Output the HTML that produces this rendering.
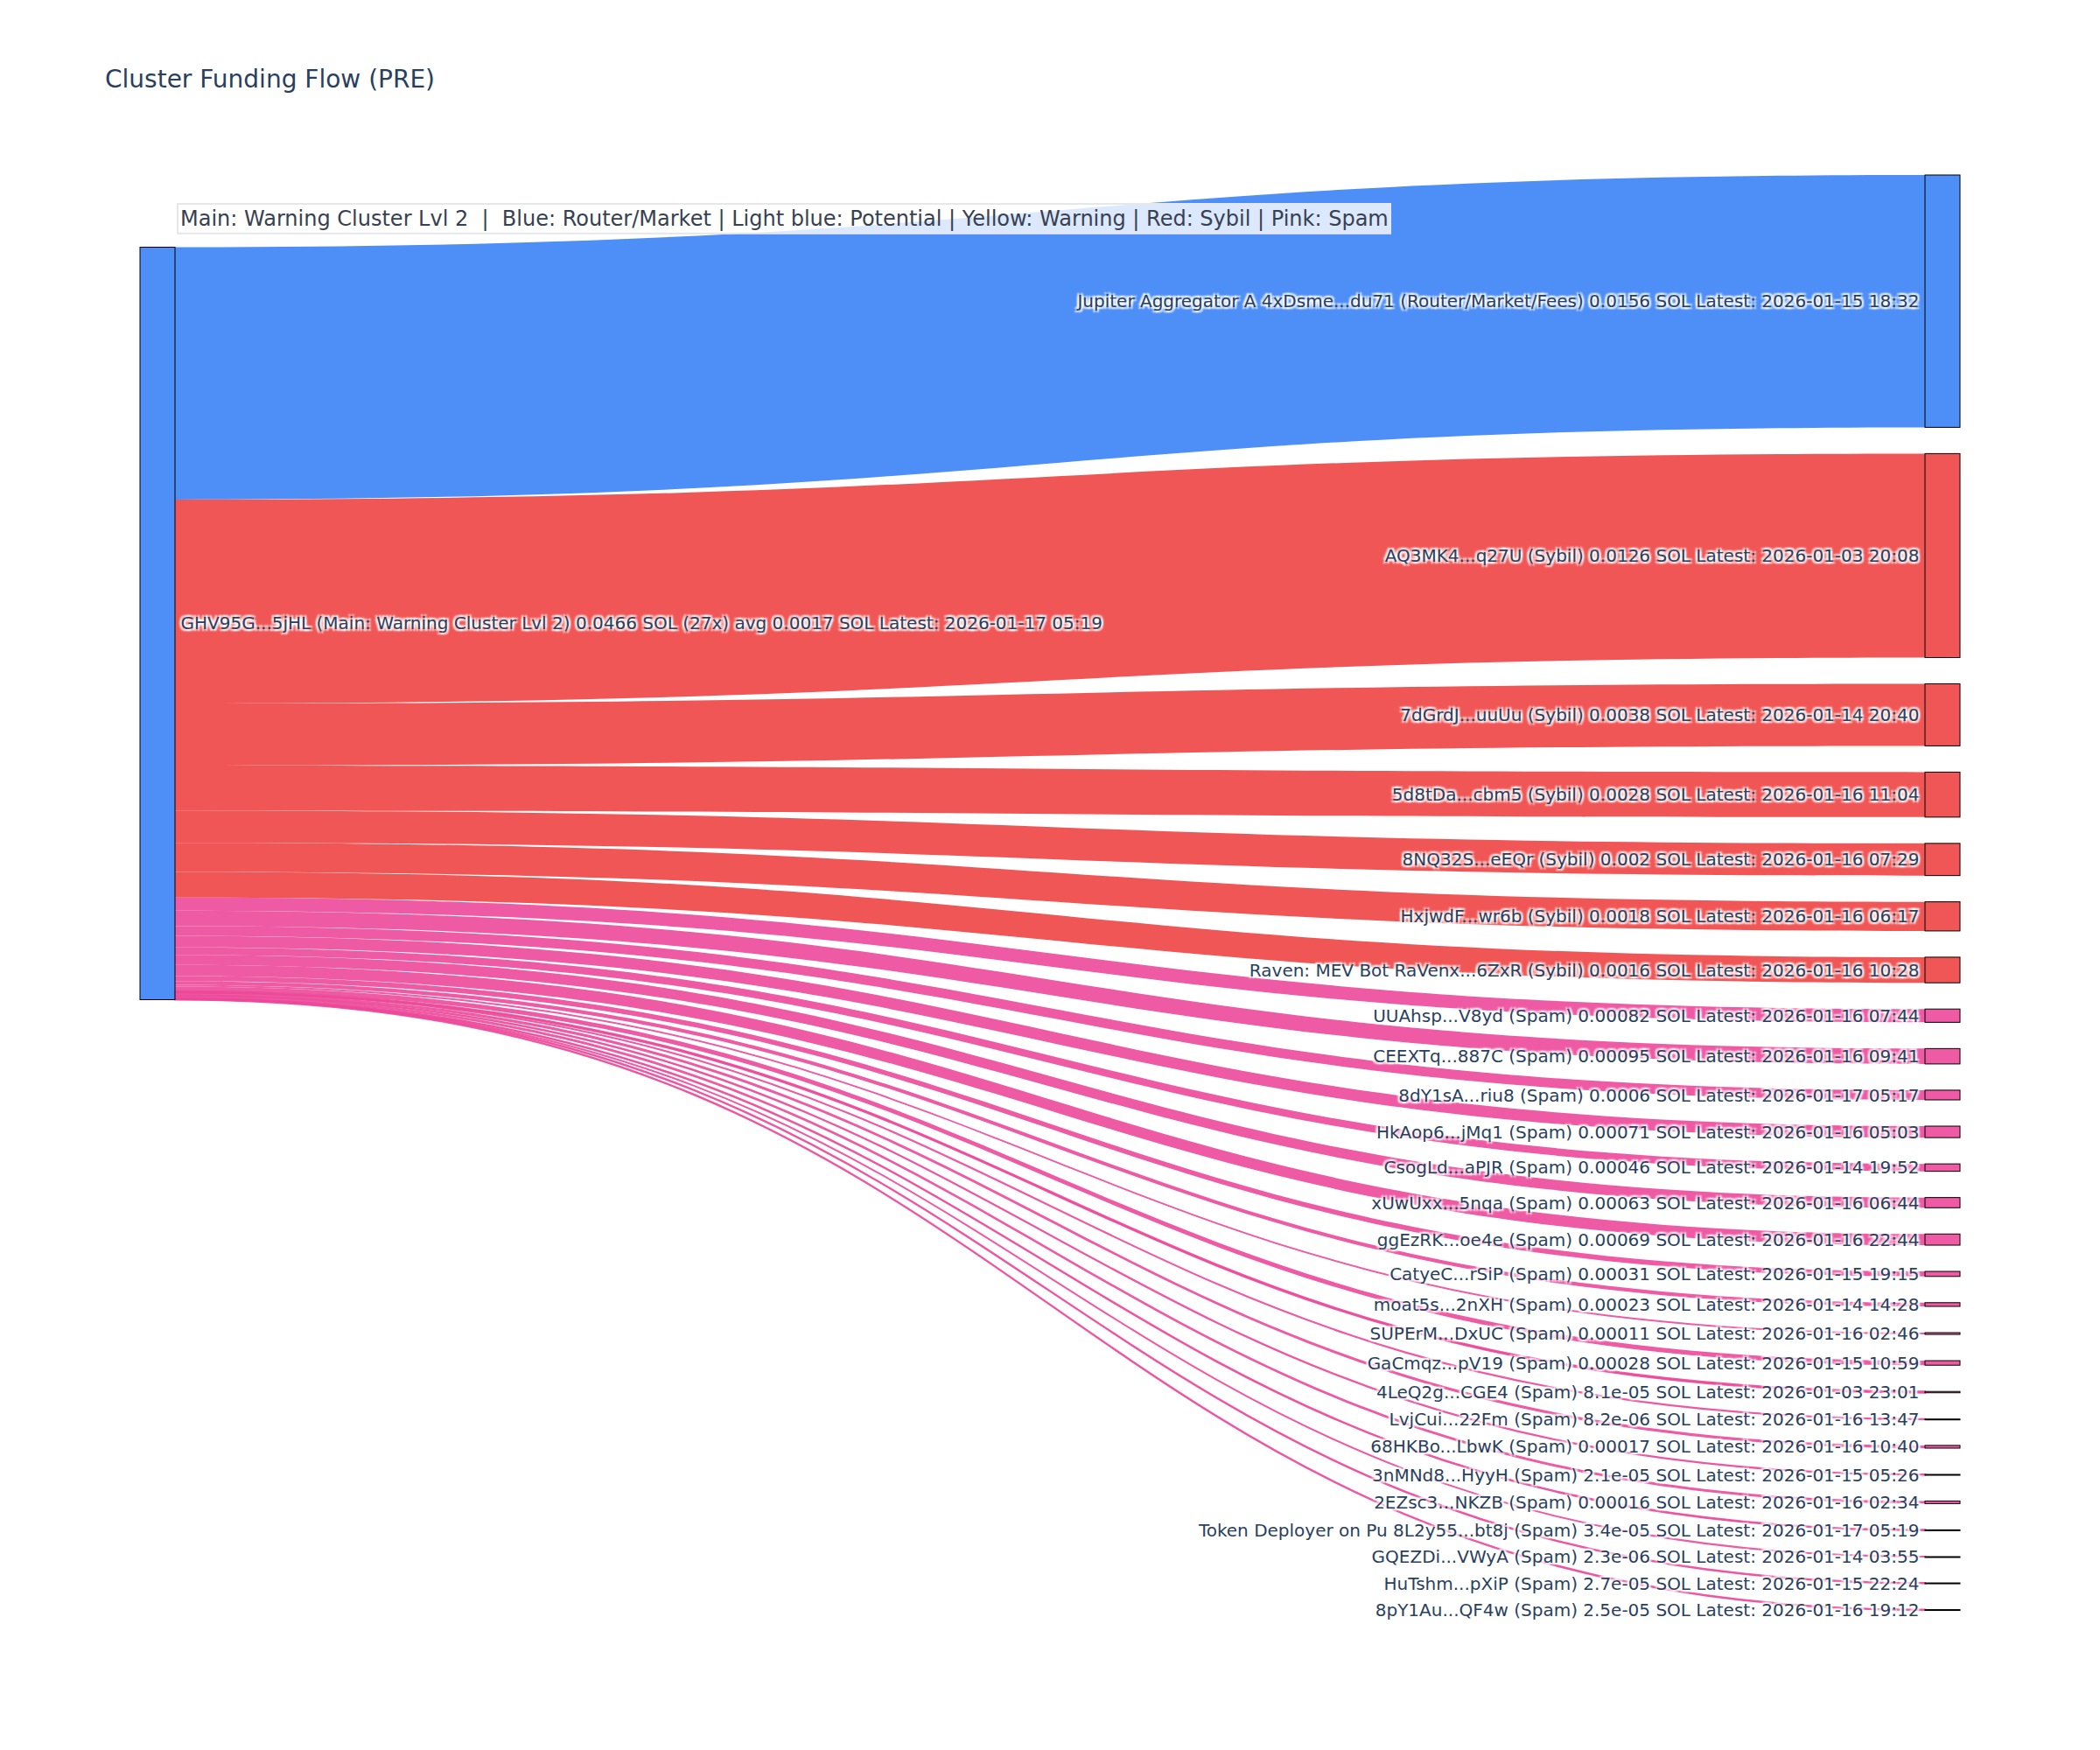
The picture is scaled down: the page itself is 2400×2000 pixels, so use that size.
<!DOCTYPE html>
<html lang="en"><head><meta charset="utf-8"><title>Cluster Funding Flow (PRE)</title>
<style>
html,body{margin:0;padding:0;background:#fff;}
body{width:2400px;height:2000px;overflow:hidden;}
svg{display:block;}
text{font-family:"DejaVu Sans","Liberation Sans",Verdana,Arial,sans-serif;white-space:pre;}
.lb{font-size:10px;fill:#2a3f5f;text-shadow:2px 2px 2px #fff,-2px -2px 2px #fff,2px -2px 2px #fff,-2px 2px 2px #fff;}
.nd{stroke:#000;stroke-width:0.5;}

.ttl{font-size:14px;fill:#2a3f5f;}
.ann{font-size:12px;fill:#374151;}
</style></head>
<body>
<svg width="2400" height="2000" viewBox="0 0 1200 1000">
<rect x="0" y="0" width="1200" height="1000" fill="#fff"/>
<g class="links">
<path class="lk" d="M100,141.25C600,141.25 600,100 1100,100L1100,244.191C600,244.191 600,285.441 100,285.441Z" fill="rgba(59,130,246,0.9)"/>
<path class="lk" d="M100,285.441C600,285.441 600,259.191 1100,259.191L1100,375.755C600,375.755 600,402.005 100,402.005Z" fill="rgba(239,68,68,0.9)"/>
<path class="lk" d="M100,402.005C600,402.005 600,390.755 1100,390.755L1100,426.202C600,426.202 600,437.452 100,437.452Z" fill="rgba(239,68,68,0.9)"/>
<path class="lk" d="M100,437.452C600,437.452 600,441.202 1100,441.202L1100,466.935C600,466.935 600,463.185 100,463.185Z" fill="rgba(239,68,68,0.9)"/>
<path class="lk" d="M100,463.185C600,463.185 600,481.935 1100,481.935L1100,500.319C600,500.319 600,481.569 100,481.569Z" fill="rgba(239,68,68,0.9)"/>
<path class="lk" d="M100,481.569C600,481.569 600,515.319 1100,515.319L1100,531.957C600,531.957 600,498.207 100,498.207Z" fill="rgba(239,68,68,0.9)"/>
<path class="lk" d="M100,498.207C600,498.207 600,546.957 1100,546.957L1100,561.598C600,561.598 600,512.848 100,512.848Z" fill="rgba(239,68,68,0.9)"/>
<path class="lk" d="M100,512.848C600,512.848 600,576.598 1100,576.598L1100,584.177C600,584.177 600,520.427 100,520.427Z" fill="rgba(236,72,153,0.9)"/>
<path class="lk" d="M100,520.427C600,520.427 600,599.177 1100,599.177L1100,607.958C600,607.958 600,529.208 100,529.208Z" fill="rgba(236,72,153,0.9)"/>
<path class="lk" d="M100,529.208C600,529.208 600,622.958 1100,622.958L1100,628.504C600,628.504 600,534.754 100,534.754Z" fill="rgba(236,72,153,0.9)"/>
<path class="lk" d="M100,534.754C600,534.754 600,643.504 1100,643.504L1100,650.066C600,650.066 600,541.316 100,541.316Z" fill="rgba(236,72,153,0.9)"/>
<path class="lk" d="M100,541.316C600,541.316 600,665.066 1100,665.066L1100,669.318C600,669.318 600,545.568 100,545.568Z" fill="rgba(236,72,153,0.9)"/>
<path class="lk" d="M100,545.568C600,545.568 600,684.318 1100,684.318L1100,690.141C600,690.141 600,551.391 100,551.391Z" fill="rgba(236,72,153,0.9)"/>
<path class="lk" d="M100,551.391C600,551.391 600,705.141 1100,705.141L1100,711.519C600,711.519 600,557.769 100,557.769Z" fill="rgba(236,72,153,0.9)"/>
<path class="lk" d="M100,557.769C600,557.769 600,726.519 1100,726.519L1100,729.384C600,729.384 600,560.634 100,560.634Z" fill="rgba(236,72,153,0.9)"/>
<path class="lk" d="M100,560.634C600,560.634 600,744.384 1100,744.384L1100,746.51C600,746.51 600,562.76 100,562.76Z" fill="rgba(236,72,153,0.9)"/>
<path class="lk" d="M100,562.76C600,562.76 600,761.51 1100,761.51L1100,762.527C600,762.527 600,563.777 100,563.777Z" fill="rgba(236,72,153,0.9)"/>
<path class="lk" d="M100,563.777C600,563.777 600,777.527 1100,777.527L1100,780.115C600,780.115 600,566.365 100,566.365Z" fill="rgba(236,72,153,0.9)"/>
<path class="lk" d="M100,566.365C600,566.365 600,795.115 1100,795.115L1100,795.864C600,795.864 600,567.114 100,567.114Z" fill="rgba(236,72,153,0.9)" stroke="rgba(236,72,153,0.9)" stroke-width="1"/>
<path class="lk" d="M100,567.114C600,567.114 600,810.864 1100,810.864L1100,810.94C600,810.94 600,567.19 100,567.19Z" fill="rgba(236,72,153,0.9)" stroke="rgba(236,72,153,0.9)" stroke-width="1"/>
<path class="lk" d="M100,567.19C600,567.19 600,825.94 1100,825.94L1100,827.511C600,827.511 600,568.761 100,568.761Z" fill="rgba(236,72,153,0.9)"/>
<path class="lk" d="M100,568.761C600,568.761 600,842.511 1100,842.511L1100,842.705C600,842.705 600,568.955 100,568.955Z" fill="rgba(236,72,153,0.9)" stroke="rgba(236,72,153,0.9)" stroke-width="1"/>
<path class="lk" d="M100,568.955C600,568.955 600,857.705 1100,857.705L1100,859.184C600,859.184 600,570.434 100,570.434Z" fill="rgba(236,72,153,0.9)"/>
<path class="lk" d="M100,570.434C600,570.434 600,874.184 1100,874.184L1100,874.498C600,874.498 600,570.748 100,570.748Z" fill="rgba(236,72,153,0.9)" stroke="rgba(236,72,153,0.9)" stroke-width="1"/>
<path class="lk" d="M100,570.748C600,570.748 600,889.498 1100,889.498L1100,889.519C600,889.519 600,570.769 100,570.769Z" fill="rgba(236,72,153,0.9)" stroke="rgba(236,72,153,0.9)" stroke-width="1"/>
<path class="lk" d="M100,570.769C600,570.769 600,904.519 1100,904.519L1100,904.769C600,904.769 600,571.019 100,571.019Z" fill="rgba(236,72,153,0.9)" stroke="rgba(236,72,153,0.9)" stroke-width="1"/>
<path class="lk" d="M100,571.019C600,571.019 600,919.769 1100,919.769L1100,920C600,920 600,571.25 100,571.25Z" fill="rgba(236,72,153,0.9)" stroke="rgba(236,72,153,0.9)" stroke-width="1"/>
</g>
<g class="nodes">
<rect class="nd" x="1100" y="100" width="20" height="144.191" fill="rgba(59,130,246,0.9)"/>
<rect class="nd" x="1100" y="259.191" width="20" height="116.564" fill="rgba(239,68,68,0.9)"/>
<rect class="nd" x="1100" y="390.755" width="20" height="35.447" fill="rgba(239,68,68,0.9)"/>
<rect class="nd" x="1100" y="441.202" width="20" height="25.733" fill="rgba(239,68,68,0.9)"/>
<rect class="nd" x="1100" y="481.935" width="20" height="18.384" fill="rgba(239,68,68,0.9)"/>
<rect class="nd" x="1100" y="515.319" width="20" height="16.637" fill="rgba(239,68,68,0.9)"/>
<rect class="nd" x="1100" y="546.957" width="20" height="14.641" fill="rgba(239,68,68,0.9)"/>
<rect class="nd" x="1100" y="576.598" width="20" height="7.579" fill="rgba(236,72,153,0.9)"/>
<rect class="nd" x="1100" y="599.177" width="20" height="8.781" fill="rgba(236,72,153,0.9)"/>
<rect class="nd" x="1100" y="622.958" width="20" height="5.546" fill="rgba(236,72,153,0.9)"/>
<rect class="nd" x="1100" y="643.504" width="20" height="6.563" fill="rgba(236,72,153,0.9)"/>
<rect class="nd" x="1100" y="665.066" width="20" height="4.252" fill="rgba(236,72,153,0.9)"/>
<rect class="nd" x="1100" y="684.318" width="20" height="5.823" fill="rgba(236,72,153,0.9)"/>
<rect class="nd" x="1100" y="705.141" width="20" height="6.378" fill="rgba(236,72,153,0.9)"/>
<rect class="nd" x="1100" y="726.519" width="20" height="2.865" fill="rgba(236,72,153,0.9)"/>
<rect class="nd" x="1100" y="744.384" width="20" height="2.126" fill="rgba(236,72,153,0.9)"/>
<rect class="nd" x="1100" y="761.51" width="20" height="1.017" fill="rgba(236,72,153,0.9)"/>
<rect class="nd" x="1100" y="777.527" width="20" height="2.588" fill="rgba(236,72,153,0.9)"/>
<rect class="nd" x="1100" y="795.115" width="20" height="0.749" fill="rgba(236,72,153,0.9)"/>
<rect class="nd" x="1100" y="810.864" width="20" height="0.5" fill="rgba(236,72,153,0.9)"/>
<rect class="nd" x="1100" y="825.94" width="20" height="1.571" fill="rgba(236,72,153,0.9)"/>
<rect class="nd" x="1100" y="842.511" width="20" height="0.5" fill="rgba(236,72,153,0.9)"/>
<rect class="nd" x="1100" y="857.705" width="20" height="1.479" fill="rgba(236,72,153,0.9)"/>
<rect class="nd" x="1100" y="874.184" width="20" height="0.5" fill="rgba(236,72,153,0.9)"/>
<rect class="nd" x="1100" y="889.498" width="20" height="0.5" fill="rgba(236,72,153,0.9)"/>
<rect class="nd" x="1100" y="904.519" width="20" height="0.5" fill="rgba(236,72,153,0.9)"/>
<rect class="nd" x="1100" y="919.769" width="20" height="0.5" fill="rgba(236,72,153,0.9)"/>
<rect class="nd" x="80" y="141.25" width="20" height="430" fill="rgba(59,130,246,0.9)"/>
</g>
<g class="labels">
<text class="lb" text-anchor="end" x="1096.75" y="175.5">Jupiter Aggregator A 4xDsme...du71 (Router/Market/Fees) 0.0156 SOL Latest: 2026-01-15 18:32</text>
<text class="lb" text-anchor="end" x="1096.75" y="321">AQ3MK4...q27U (Sybil) 0.0126 SOL Latest: 2026-01-03 20:08</text>
<text class="lb" text-anchor="end" x="1096.75" y="412">7dGrdJ...uuUu (Sybil) 0.0038 SOL Latest: 2026-01-14 20:40</text>
<text class="lb" text-anchor="end" x="1096.75" y="457.5">5d8tDa...cbm5 (Sybil) 0.0028 SOL Latest: 2026-01-16 11:04</text>
<text class="lb" text-anchor="end" x="1096.75" y="494.5">8NQ32S...eEQr (Sybil) 0.002 SOL Latest: 2026-01-16 07:29</text>
<text class="lb" text-anchor="end" x="1096.75" y="527">HxjwdF...wr6b (Sybil) 0.0018 SOL Latest: 2026-01-16 06:17</text>
<text class="lb" text-anchor="end" x="1096.75" y="558">Raven: MEV Bot RaVenx...6ZxR (Sybil) 0.0016 SOL Latest: 2026-01-16 10:28</text>
<text class="lb" text-anchor="end" x="1096.75" y="584">UUAhsp...V8yd (Spam) 0.00082 SOL Latest: 2026-01-16 07:44</text>
<text class="lb" text-anchor="end" x="1096.75" y="607">CEEXTq...887C (Spam) 0.00095 SOL Latest: 2026-01-16 09:41</text>
<text class="lb" text-anchor="end" x="1096.75" y="629.5">8dY1sA...riu8 (Spam) 0.0006 SOL Latest: 2026-01-17 05:17</text>
<text class="lb" text-anchor="end" x="1096.75" y="650.5">HkAop6...jMq1 (Spam) 0.00071 SOL Latest: 2026-01-16 05:03</text>
<text class="lb" text-anchor="end" x="1096.75" y="670.5">CsogLd...aPJR (Spam) 0.00046 SOL Latest: 2026-01-14 19:52</text>
<text class="lb" text-anchor="end" x="1096.75" y="691">xUwUxx...5nqa (Spam) 0.00063 SOL Latest: 2026-01-16 06:44</text>
<text class="lb" text-anchor="end" x="1096.75" y="712">ggEzRK...oe4e (Spam) 0.00069 SOL Latest: 2026-01-16 22:44</text>
<text class="lb" text-anchor="end" x="1096.75" y="731.5">CatyeC...rSiP (Spam) 0.00031 SOL Latest: 2026-01-15 19:15</text>
<text class="lb" text-anchor="end" x="1096.75" y="749">moat5s...2nXH (Spam) 0.00023 SOL Latest: 2026-01-14 14:28</text>
<text class="lb" text-anchor="end" x="1096.75" y="765.5">SUPErM...DxUC (Spam) 0.00011 SOL Latest: 2026-01-16 02:46</text>
<text class="lb" text-anchor="end" x="1096.75" y="782.5">GaCmqz...pV19 (Spam) 0.00028 SOL Latest: 2026-01-15 10:59</text>
<text class="lb" text-anchor="end" x="1096.75" y="799">4LeQ2g...CGE4 (Spam) 8.1e-05 SOL Latest: 2026-01-03 23:01</text>
<text class="lb" text-anchor="end" x="1096.75" y="814.5">LvjCui...22Fm (Spam) 8.2e-06 SOL Latest: 2026-01-16 13:47</text>
<text class="lb" text-anchor="end" x="1096.75" y="830">68HKBo...LbwK (Spam) 0.00017 SOL Latest: 2026-01-16 10:40</text>
<text class="lb" text-anchor="end" x="1096.75" y="846.5">3nMNd8...HyyH (Spam) 2.1e-05 SOL Latest: 2026-01-15 05:26</text>
<text class="lb" text-anchor="end" x="1096.75" y="862">2EZsc3...NKZB (Spam) 0.00016 SOL Latest: 2026-01-16 02:34</text>
<text class="lb" text-anchor="end" x="1096.75" y="878">Token Deployer on Pu 8L2y55...bt8j (Spam) 3.4e-05 SOL Latest: 2026-01-17 05:19</text>
<text class="lb" text-anchor="end" x="1096.75" y="893">GQEZDi...VWyA (Spam) 2.3e-06 SOL Latest: 2026-01-14 03:55</text>
<text class="lb" text-anchor="end" x="1096.75" y="908.5">HuTshm...pXiP (Spam) 2.7e-05 SOL Latest: 2026-01-15 22:24</text>
<text class="lb" text-anchor="end" x="1096.75" y="923.5">8pY1Au...QF4w (Spam) 2.5e-05 SOL Latest: 2026-01-16 19:12</text>
<text class="lb" text-anchor="start" x="103.25" y="359.5">GHV95G...5jHL (Main: Warning Cluster Lvl 2) 0.0466 SOL (27x) avg 0.0017 SOL Latest: 2026-01-17 05:19</text>
</g>
<g class="annotation">
<rect x="101.5" y="116.5" width="693" height="16.9" fill="rgba(255,255,255,0.8)" stroke="#e5e7eb" stroke-width="1"/>
<text class="ann" x="103" y="128.9" xml:space="preserve">Main: Warning Cluster Lvl 2  |  Blue: Router/Market | Light blue: Potential | Yellow: Warning | Red: Sybil | Pink: Spam</text>
</g>
<text class="ttl" x="60" y="50">Cluster Funding Flow (PRE)</text>
</svg>
</body></html>
